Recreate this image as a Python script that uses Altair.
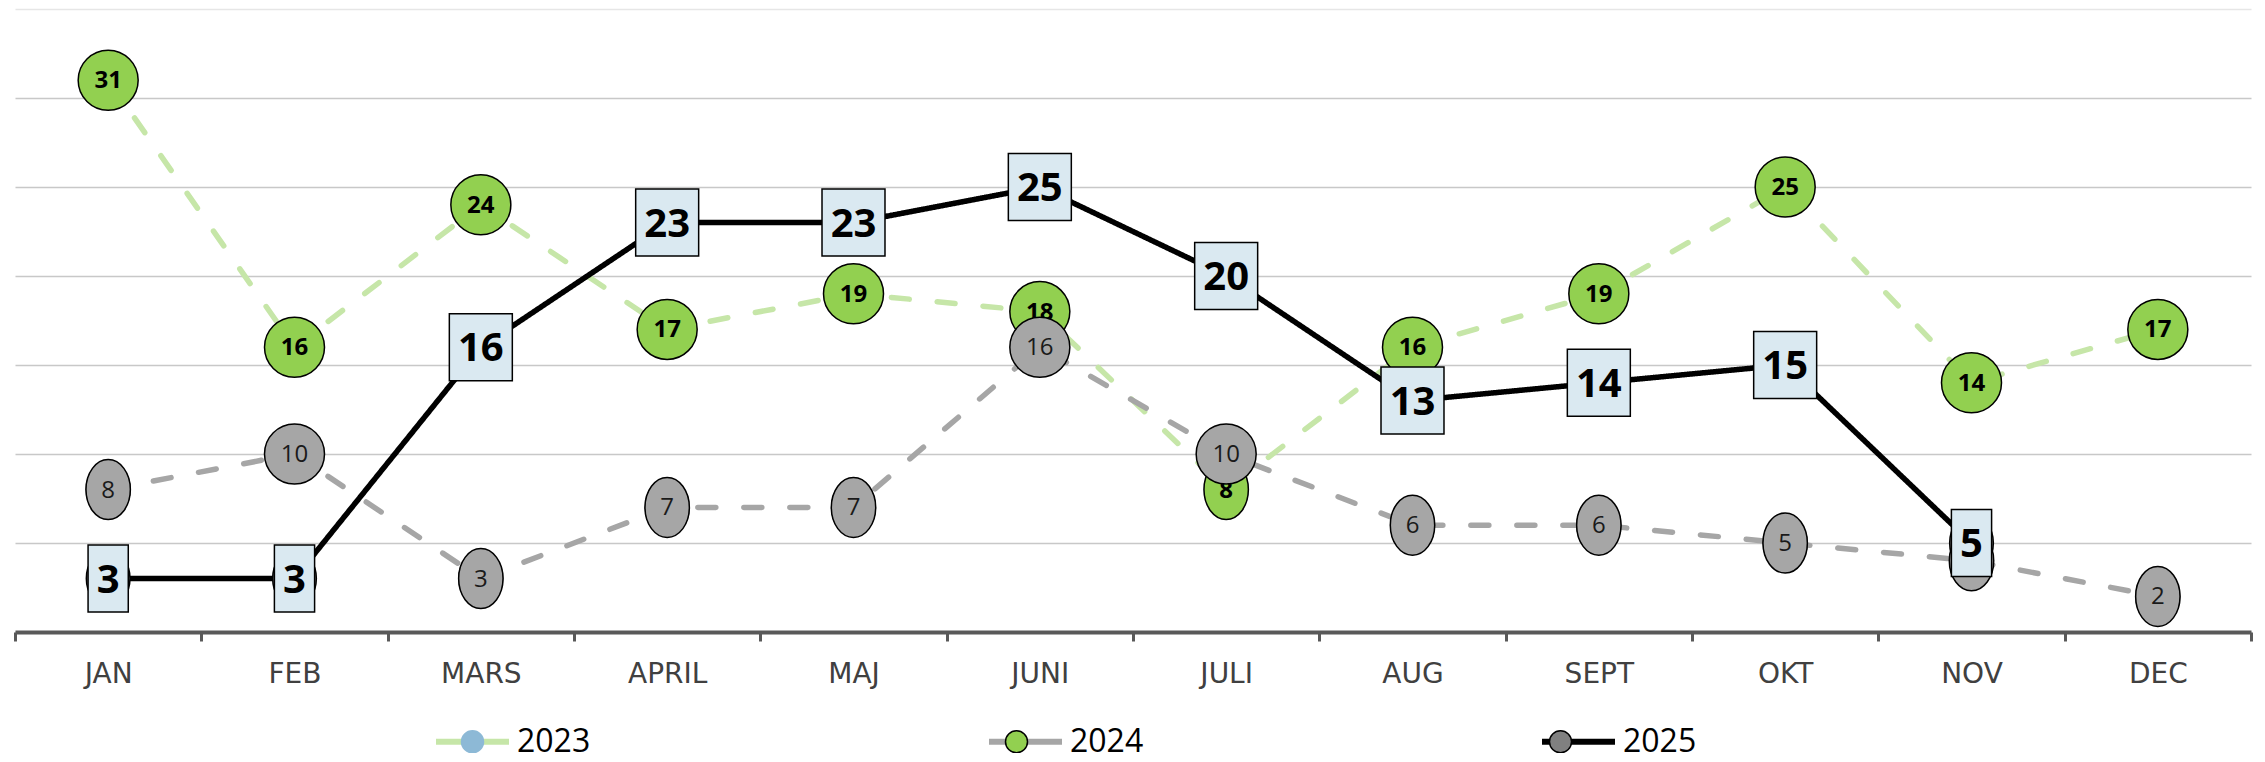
import altair as alt
import pandas as pd

# ---- data ----
months = ["JAN", "FEB", "MARS", "APRIL", "MAJ", "JUNI", "JULI", "AUG", "SEPT", "OKT", "NOV", "DEC"]
series_names = ["2023", "2024", "2025"]
v2023 = [31, 16, 24, 17, 19, 18, 8, 16, 19, 25, 14, 17]
v2024 = [8, 10, 3, 7, 7, 16, 10, 6, 6, 5, 4, 2]
v2025 = [3, 3, 16, 23, 23, 25, 20, 13, 14, 15, 5, None]
y_ticks = [0, 5, 10, 15, 20, 25, 30, 35]

# ---- styles ----
line_colors = ["#C6E6A8", "#A6A6A6", "#000000"]
line_dashes = [[18, 28], [18, 28], [1, 0]]
marker_colors = ["#8DB9D6", "#92D050", "#808080"]
marker_strokes = ["#8DB9D6", "#000000", "#000000"]
label_fills = ["#92D050", "#A6A6A6", "#DAE9F1"]

rows = []
for name, vals in zip(series_names, [v2023, v2024, v2025]):
    for m, v in zip(months, vals):
        if v is not None:
            rows.append({"month": m, "series": name, "series_m": name, "value": v})
df = pd.DataFrame(rows)

OVAL_WIDE = "M-1,0 A1,1 0 1 0 1,0 A1,1 0 1 0 -1,0 Z"
OVAL_NARROW = "M-0.74,0 A0.74,1 0 1 0 0.74,0 A0.74,1 0 1 0 -0.74,0 Z"
RECT_WIDE = "M-0.94,-1 H0.94 V1 H-0.94 Z"
RECT_NARROW = "M-0.6,-1 H0.6 V1 H-0.6 Z"
MARKER = "M-0.78,0 A0.78,1 0 1 0 0.78,0 A0.78,1 0 1 0 -0.78,0 Z"
LEG_LINE = "M-1,0 H1"
LEG_CIRCLE = "M-0.284,0 A0.284,0.284 0 1 0 0.284,0 A0.284,0.284 0 1 0 -0.284,0 Z"

FONT = "Open Sans"

xaxis = alt.Axis(
    title=None, labelAngle=0, labelFont="DejaVu Sans", labelFontSize=28, labelColor="#404040",
    labelPadding=19, tickBand="extent", tickSize=9, tickWidth=3, tickColor="#595959",
    domainColor="#595959", domainWidth=4, grid=False,
)
yaxis = alt.Axis(
    title=None, labels=False, ticks=False, domain=False, grid=True, values=y_ticks,
    gridColor={"condition": {"test": "datum.value >= 35", "value": "#E6E6E6"}, "value": "#C8C8C8"},
    gridWidth=1.3,
)

X = alt.X("month:N", sort=months, bandPosition=0.5,
          scale=alt.Scale(type="band", paddingInner=0, paddingOuter=0), axis=xaxis)
Y = alt.Y("value:Q", scale=alt.Scale(domain=[0, 35], nice=False, zero=True), axis=yaxis)

common_leg = dict(
    title=None, orient="none", legendX=418, legendY=693, direction="horizontal",
    columns=3, columnPadding=386, labelFont=FONT, labelFontSize=32, labelColor="#000000",
    labelOffset=5, padding=0, symbolOpacity=1,
)
line_legend = alt.Legend(symbolType=LEG_LINE, symbolSize=5329, symbolStrokeWidth=6, **common_leg)
marker_legend = alt.Legend(symbolType=LEG_CIRCLE, symbolSize=6006, symbolStrokeWidth=1.5,
                           labelOpacity=0, **common_leg)

lines = alt.Chart(df).mark_line(strokeWidth=5.5, strokeCap="round", strokeJoin="round").encode(
    x=X, y=Y,
    stroke=alt.Stroke("series:N", scale=alt.Scale(domain=series_names, range=line_colors), legend=line_legend),
    strokeDash=alt.StrokeDash("series:N", scale=alt.Scale(domain=series_names, range=line_dashes), legend=None),
)

markers = alt.Chart(df).mark_point(filled=True, opacity=1, size=3136, shape=MARKER, strokeWidth=1.5).encode(
    x=X, y=Y,
    fill=alt.Fill("series_m:N", scale=alt.Scale(domain=series_names, range=marker_colors), legend=marker_legend),
    stroke=alt.Stroke("series_m:N", scale=alt.Scale(domain=series_names, range=marker_strokes), legend=marker_legend),
)

label_specs = [
    # name, fill, wide shape, narrow shape, size, font size, weight, text color, dy
    ("2023", label_fills[0], OVAL_WIDE, OVAL_NARROW, 3600, 24, "bold", "#000000", 1),
    ("2024", label_fills[1], OVAL_WIDE, OVAL_NARROW, 3600, 24, "normal", "#1A1A1A", 1),
    ("2025", label_fills[2], RECT_WIDE, RECT_NARROW, 4489, 40, "bold", "#000000", 2),
]

layers = [lines, markers]
for name, fill, wide, narrow, size, fs, fw, tc, dy in label_specs:
    base = alt.Chart(df).transform_filter(alt.datum.series == name)
    shp = base.mark_point(filled=True, opacity=1, size=size, fill=fill, stroke="#000000",
                          strokeWidth=1.5).encode(
        x=X, y=Y,
        shape=alt.condition("datum.value >= 10", alt.value(wide), alt.value(narrow)),
    )
    txt = base.mark_text(font=FONT, fontSize=fs, fontWeight=fw, color=tc,
                         baseline="middle", align="center", dy=dy).encode(
        x=X, y=Y, text="value:Q",
    )
    layers += [shp, txt]

chart = alt.layer(*layers).resolve_scale(
    stroke="independent", fill="independent"
).properties(
    width=2236, height=623,
    autosize=alt.AutoSizeParams(type="none"),
    padding={"left": 7, "top": 1, "right": 6, "bottom": 121},
    background="#FFFFFF",
).configure_view(stroke=None)

chart.save("out.html", embed_options={"renderer": "svg", "actions": False})
